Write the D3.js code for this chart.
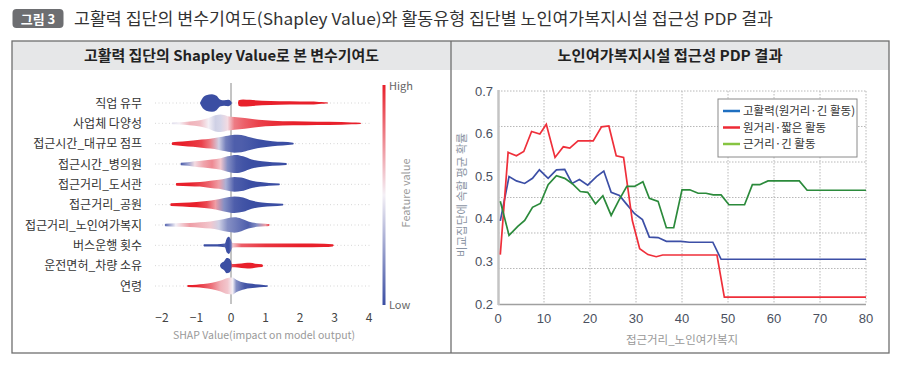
<!DOCTYPE html>
<html><head><meta charset="utf-8">
<script src="https://cdn.jsdelivr.net/npm/d3@7/dist/d3.min.js"></script>
<style>body{margin:0;background:#fff}svg{display:block}</style>
</head><body>
<svg id="c" width="902" height="369"></svg>
<script>
// ---------- DATA ----------
const mainTitle = "고활력 집단의 변수기여도(Shapley Value)와 활동유형 집단별 노인여가복지시설 접근성 PDP 결과";
const badgeText = "그림 3";
const leftTitle = "고활력 집단의 Shapley Value로 본 변수기여도";
const rightTitle = "노인여가복지시설 접근성 PDP 결과";

const features = ["직업 유무","사업체 다양성","접근시간_대규모 점프","접근시간_병의원","접근거리_도서관",
  "접근거리_공원","접근거리_노인여가복지","버스운행 횟수","운전면허_차량 소유","연령"];
// each profile point: [SHAP value, relative density (0..1), mean feature value (0 low .. 1 high)]
const shapProfiles = [
  [[-0.9,0,0],[-0.85,0.4,0],[-0.72,0.85,0],[-0.55,0.97,0],[-0.42,0.8,0],[-0.32,0.4,0],[-0.2,0.3,0],[-0.08,0.35,0],[0,0.2,0],[0.03,0,0],
   [0.2,0,1],[0.22,0.3,1],[0.35,0.4,1],[0.55,0.35,1],[0.9,0.25,1],[1.4,0.2,1],[2.0,0.18,1],[2.4,0.17,1],[2.55,0.1,1],[2.7,0.08,1],[2.8,0.06,1],[2.82,0,1]],
  [[-1.72,0,0.45],[-1.7,0.1,0.45],[-1.5,0.12,0.5],[-1.2,0.2,0.65],[-0.9,0.35,0.62],[-0.65,0.6,0.5],[-0.45,0.9,0.4],[-0.3,0.97,0.42],[-0.1,0.8,0.55],[0.1,0.7,0.78],[0.4,0.6,0.85],[0.8,0.4,0.92],[1.2,0.3,0.96],[1.8,0.22,1],[2.5,0.18,1],[3.2,0.15,1],[3.5,0.1,1],[3.75,0.07,1],[3.77,0,1]],
  [[-1.72,0,1],[-1.7,0.15,1],[-1.4,0.25,1],[-1.1,0.35,0.96],[-0.85,0.45,0.92],[-0.6,0.55,0.78],[-0.35,0.7,0.4],[-0.15,0.85,0.15],[0.1,1.0,0.05],[0.3,0.95,0.05],[0.55,0.7,0.03],[0.85,0.45,0],[1.2,0.28,0],[1.5,0.2,0],[1.8,0.1,0],[1.82,0,0]],
  [[-1.46,0,0],[-1.45,0.15,0.05],[-1.25,0.2,0.25],[-1.05,0.3,0.55],[-0.8,0.4,0.68],[-0.55,0.5,0.75],[-0.3,0.65,0.6],[-0.1,0.85,0.2],[0.15,1.0,0.05],[0.35,0.85,0.02],[0.6,0.5,0],[0.9,0.3,0],[1.2,0.2,0],[1.6,0.12,0],[1.62,0,0]],
  [[-1.6,0,1],[-1.58,0.15,1],[-1.2,0.2,1],[-0.9,0.25,0.92],[-0.6,0.4,0.82],[-0.35,0.5,0.7],[-0.15,0.65,0.3],[0.1,0.82,0.05],[0.3,0.75,0.03],[0.55,0.45,0],[0.85,0.25,0],[1.1,0.15,0],[1.4,0.1,0],[1.42,0,0]],
  [[-1.76,0,1],[-1.74,0.15,1],[-1.4,0.2,1],[-1.0,0.3,1],[-0.7,0.4,0.9],[-0.45,0.55,0.7],[-0.2,0.75,0.2],[0.1,0.92,0.05],[0.35,0.8,0.02],[0.6,0.45,0],[0.9,0.25,0],[1.2,0.17,0],[1.5,0.1,0],[1.52,0,0]],
  [[-1.92,0,0.1],[-1.9,0.15,0.1],[-1.6,0.2,0.5],[-1.2,0.22,0.7],[-0.9,0.3,0.65],[-0.6,0.4,0.6],[-0.35,0.55,0.4],[-0.1,0.75,0.2],[0.1,0.85,0.15],[0.3,0.7,0.1],[0.5,0.4,0.05],[0.75,0.2,0.2],[1.0,0.15,0.7],[1.1,0.1,0.9],[1.12,0,0.9]],
  [[-0.8,0,0],[-0.78,0.12,0],[-0.5,0.12,0],[-0.3,0.15,0],[-0.18,0.2,0.05],[-0.12,0.8,0],[-0.06,0.95,0],[0,0.6,0.1],[0.05,0.25,0.6],[0.3,0.2,0.85],[1.0,0.2,0.95],[2.0,0.2,1],[2.7,0.18,1],[2.95,0.12,1],[2.98,0,1]],
  [[-0.32,0,0],[-0.3,0.2,0],[-0.2,0.5,0],[-0.12,0.85,0],[-0.06,0.8,0],[0,0.5,0],[0.03,0.18,0.9],[0.2,0.2,1],[0.4,0.3,1],[0.55,0.32,1],[0.7,0.22,1],[0.9,0.15,1],[0.93,0,1]],
  [[-1.27,0,1],[-1.25,0.12,1],[-1.0,0.15,1],[-0.8,0.22,0.9],[-0.55,0.35,0.8],[-0.3,0.6,0.65],[-0.1,0.9,0.6],[0.05,0.95,0.5],[0.15,0.7,0.2],[0.4,0.35,0.03],[0.7,0.2,0],[0.95,0.12,0],[1.05,0.08,0],[1.07,0,0]]
];
const shapTicks = [-2,-1,0,1,2,3,4];
const shapAxisTitle = "SHAP Value(impact on model output)";
const colorbarLabels = ["High","Low"];
const colorbarTitle = "Feature value";

const pdpSeriesNames = ["고활력(원거리·긴 활동)","원거리·짧은 활동","근거리·긴 활동"];
const highX = [0.5,2.4,4,5.8,7.5,9,10.9,12.7,14.5,16.1,17.7,19.5,21.4,23,24.6,26.4,27.9,29.7,31.4,32.9,34.8,36.6,39.8,41.6,46.7,48.5,80];
const highY = [0.395,0.499,0.489,0.483,0.495,0.515,0.495,0.515,0.516,0.483,0.492,0.479,0.499,0.512,0.462,0.455,0.435,0.412,0.398,0.357,0.356,0.347,0.347,0.345,0.345,0.305,0.305];
const farShortX = [0.5,2.2,4.0,5.6,7.3,9.1,10.5,12.4,14.2,15.6,17.4,20.7,22.5,24.1,25.7,27.3,29.2,30.8,32.6,34.4,35.8,47.6,49.2,80];
const farShortY = [0.316,0.556,0.548,0.558,0.605,0.599,0.622,0.544,0.569,0.566,0.583,0.583,0.616,0.618,0.548,0.544,0.396,0.330,0.316,0.311,0.315,0.315,0.216,0.216];
const nearLongX = [0.5,2.4,4.3,5.8,7.5,9.2,10.9,12.7,14.5,16.1,17.9,19.5,21.2,22.8,24.6,26.3,28,29.7,31.5,32.9,34.8,36.6,38.2,40,41.7,43.5,45.2,46.8,48.5,50.2,53.6,55.3,56.9,58.7,65.5,67.2,80];
const nearLongY = [0.441,0.361,0.382,0.396,0.427,0.436,0.480,0.501,0.495,0.483,0.464,0.462,0.435,0.454,0.408,0.444,0.476,0.476,0.487,0.448,0.441,0.379,0.379,0.468,0.468,0.460,0.460,0.456,0.456,0.433,0.433,0.480,0.480,0.489,0.489,0.467,0.467];
const pdpTicksX = [0,10,20,30,40,50,60,70,80];
const pdpTicksY = [0.2,0.3,0.4,0.5,0.6,0.7];
const pdpGridY = [0.2833,0.3667,0.45,0.5333,0.6167,0.7];
const pdpXTitle = "접근거리_노인여가복지";
const pdpYTitle = "비교집단에 속할 평균 확률";

// ---------- DRAW ----------
const svg = d3.select("#c");
const KR = "'Noto Sans CJK KR','Noto Sans',sans-serif";
const defs = svg.append("defs");

// header
svg.append("rect").attr("x",12.5).attr("y",9).attr("width",51).attr("height",19).attr("rx",4).attr("fill","#6d6e71");
svg.append("text").attr("x",38).attr("y",23.5).attr("text-anchor","middle").attr("fill","#fff")
  .attr("font-family",KR).attr("font-weight",700).attr("font-size",13).text(badgeText);
svg.append("text").attr("x",74).attr("y",25).attr("fill","#333").attr("font-family",KR).attr("font-size",16.5)
  .attr("textLength",699).attr("lengthAdjust","spacingAndGlyphs").text(mainTitle);

// panels
const panels = [{x0:12,x1:451,title:leftTitle,tw:295},{x0:451,x1:889,title:rightTitle,tw:225}];
panels.forEach(p=>{
  svg.append("rect").attr("x",p.x0).attr("y",41).attr("width",p.x1-p.x0).attr("height",29).attr("fill","#e6e7e8");
  svg.append("text").attr("x",(p.x0+p.x1)/2).attr("y",61).attr("text-anchor","middle").attr("fill","#222")
    .attr("font-family",KR).attr("font-weight",700).attr("font-size",14.5)
    .attr("textLength",p.tw).attr("lengthAdjust","spacingAndGlyphs").text(p.title);
});
svg.append("rect").attr("x",12).attr("y",41).attr("width",877).attr("height",312).attr("fill","none")
  .attr("stroke","#6f6f6f").attr("stroke-width",1.3);
svg.append("line").attr("x1",451).attr("x2",451).attr("y1",41).attr("y2",353).attr("stroke","#6f6f6f").attr("stroke-width",1.3);

// ---- left: SHAP summary ----
const xs = d3.scaleLinear().domain([-2,4]).range([162,369]);
const ys = d3.scalePoint().domain(features).range([103,286]);
const dens = d3.scaleLinear().domain([0,1]).range([0,9]);
const fvColor = d3.scaleLinear().domain([0,0.5,1]).range(["#3b4ea3","#f4f0f6","#e8202b"]).interpolate(d3.interpolateRgb);

const L = svg.append("g");
features.forEach(f=>{
  L.append("line").attr("x1",155).attr("x2",370).attr("y1",ys(f)).attr("y2",ys(f))
    .attr("stroke","#d6d6d6").attr("stroke-width",1).attr("stroke-dasharray","1,2.5");
});
L.append("line").attr("x1",xs(0)).attr("x2",xs(0)).attr("y1",83).attr("y2",304).attr("stroke","#8a8a8a").attr("stroke-width",1);

features.forEach((f,i)=>{
  const prof = shapProfiles[i];
  const x0 = xs(prof[0][0]), x1 = xs(prof[prof.length-1][0]);
  const gid = "g"+i;
  const g = defs.append("linearGradient").attr("id",gid).attr("gradientUnits","userSpaceOnUse")
    .attr("x1",x0).attr("x2",x1).attr("y1",0).attr("y2",0);
  prof.forEach(p=>g.append("stop").attr("offset",(xs(p[0])-x0)/(x1-x0)).attr("stop-color",fvColor(p[2])));
  const area = d3.area().x(p=>xs(p[0])).y0(p=>ys(f)-dens(p[1])).y1(p=>ys(f)+dens(p[1])).curve(d3.curveMonotoneX);
  L.append("path").attr("d",area(prof)).attr("fill",`url(#${gid})`);
});
L.selectAll(".fl").data(features).join("text").attr("x",142).attr("y",d=>ys(d)+4.5).attr("text-anchor","end")
  .attr("fill","#333").attr("font-family",KR).attr("font-size",12).text(d=>d);
L.selectAll(".st").data(shapTicks).join("text").attr("x",d=>xs(d)).attr("y",321.5).attr("text-anchor","middle")
  .attr("fill","#444").attr("font-family",KR).attr("font-size",12).text(d=>d<0?"\u2212"+Math.abs(d):d);
L.append("text").attr("x",264).attr("y",339).attr("text-anchor","middle").attr("fill","#999")
  .attr("font-family",KR).attr("font-size",10.5).text(shapAxisTitle);
// colorbar
const cb = defs.append("linearGradient").attr("id","cb").attr("x1",0).attr("x2",0).attr("y1",1).attr("y2",0);
[0,0.5,1].forEach(v=>cb.append("stop").attr("offset",v).attr("stop-color",fvColor(v)));
L.append("rect").attr("x",382.5).attr("y",85).attr("width",3).attr("height",220).attr("fill","url(#cb)");
L.append("text").attr("x",389).attr("y",90).attr("fill","#666").attr("font-family",KR).attr("font-size",11).text(colorbarLabels[0]);
L.append("text").attr("x",389).attr("y",309).attr("fill","#666").attr("font-family",KR).attr("font-size",11).text(colorbarLabels[1]);
L.append("text").attr("transform","translate(410,193) rotate(-90)").attr("text-anchor","middle").attr("fill","#999")
  .attr("font-family",KR).attr("font-size",11).text(colorbarTitle);

// ---- right: PDP ----
const px = d3.scaleLinear().domain([0,80]).range([498,866]);
const py = d3.scaleLinear().domain([0.2,0.7]).range([304,91]);
const R = svg.append("g");
R.selectAll(".gy").data(pdpGridY).join("line").attr("x1",498).attr("x2",866).attr("y1",d=>py(d)).attr("y2",d=>py(d))
  .attr("stroke","#b8b8b8").attr("stroke-width",1).attr("stroke-dasharray","1.5,1.5");
R.selectAll(".gx").data(pdpTicksX.slice(1)).join("line").attr("x1",d=>px(d)).attr("x2",d=>px(d)).attr("y1",91).attr("y2",304)
  .attr("stroke","#b8b8b8").attr("stroke-width",1).attr("stroke-dasharray","1.5,1.5");
R.append("line").attr("x1",498).attr("x2",866).attr("y1",304.5).attr("y2",304.5).attr("stroke","#a0a0a0").attr("stroke-width",1.5);
R.append("line").attr("x1",498.5).attr("x2",498.5).attr("y1",90).attr("y2",305).attr("stroke","#c4c4c4").attr("stroke-width",2.5);

const series = [
  {x:highX,y:highY,c:"#3c4fa6",lc:"#1f6fc0"},
  {x:farShortX,y:farShortY,c:"#ef2f3a",lc:"#ee2a35"},
  {x:nearLongX,y:nearLongY,c:"#2b8a3b",lc:"#86c441"}
];
const line = d3.line().x(d=>px(d[0])).y(d=>py(d[1]));
series.forEach(s=>{
  R.append("path").attr("d",line(s.x.map((v,i)=>[v,s.y[i]]))).attr("fill","none").attr("stroke",s.c).attr("stroke-width",1.7);
});
R.selectAll(".ty").data(pdpTicksY).join("text").attr("x",493).attr("y",d=>py(d)+4.5).attr("text-anchor","end")
  .attr("fill","#4a5060").attr("font-family","'Liberation Sans',Arial,sans-serif").attr("font-size",13).text(d=>d.toFixed(1));
R.selectAll(".tx").data(pdpTicksX).join("text").attr("x",d=>px(d)).attr("y",323).attr("text-anchor","middle")
  .attr("fill","#4a5060").attr("font-family","'Liberation Sans',Arial,sans-serif").attr("font-size",13).text(d=>d);
R.append("text").attr("x",682).attr("y",344).attr("text-anchor","middle").attr("fill","#999")
  .attr("font-family",KR).attr("font-size",11.5).text(pdpXTitle);
R.append("text").attr("transform","translate(466,195) rotate(-90)").attr("text-anchor","middle").attr("fill","#8a94a3")
  .attr("font-family",KR).attr("font-size",11.5).text(pdpYTitle);
// legend
R.append("rect").attr("x",718).attr("y",99).attr("width",139).attr("height",58).attr("fill","#fff").attr("stroke","#8a8a8a").attr("stroke-width",1);
pdpSeriesNames.forEach((n,i)=>{
  const yy = 111+i*16.5;
  R.append("line").attr("x1",723).attr("x2",740).attr("y1",yy).attr("y2",yy).attr("stroke",series[i].lc).attr("stroke-width",2.5);
  R.append("text").attr("x",743).attr("y",yy+4).attr("fill","#333").attr("font-family",KR).attr("font-size",11.5).text(n);
});
</script>
</body></html>
